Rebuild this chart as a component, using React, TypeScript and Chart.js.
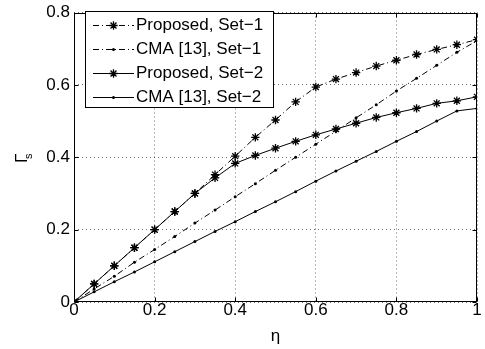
import { useEffect, useRef } from "react";
import { Chart, registerables } from "chart.js";

Chart.register(...registerables);

// ---- data ----
const eta = [0, 0.05, 0.1, 0.15, 0.2, 0.25, 0.3, 0.35, 0.4, 0.45, 0.5, 0.55, 0.6, 0.65, 0.7, 0.75, 0.8, 0.85, 0.9, 0.95, 1.0];
const proposedSet1 = [0, 0.05, 0.1, 0.15, 0.2, 0.25, 0.3, 0.352, 0.403, 0.455, 0.503, 0.553, 0.594, 0.616, 0.634, 0.652, 0.668, 0.684, 0.698, 0.711, 0.725];
const cmaSet1 = [0, 0.036, 0.071, 0.11, 0.145, 0.181, 0.218, 0.254, 0.291, 0.327, 0.364, 0.4, 0.436, 0.472, 0.509, 0.545, 0.583, 0.618, 0.654, 0.69, 0.722];
const proposedSet2 = [0, 0.05, 0.1, 0.15, 0.2, 0.25, 0.3, 0.343, 0.383, 0.405, 0.425, 0.444, 0.462, 0.478, 0.494, 0.51, 0.523, 0.535, 0.549, 0.556, 0.567];
const cmaSet2 = [0, 0.028, 0.056, 0.083, 0.111, 0.139, 0.167, 0.195, 0.222, 0.25, 0.277, 0.305, 0.334, 0.362, 0.389, 0.416, 0.444, 0.471, 0.5, 0.528, 0.535];

const seriesLabels = ["Proposed, Set\u22121", "CMA [13], Set\u22121", "Proposed, Set\u22122", "CMA [13], Set\u22122"];
const xTicks = [0, 0.2, 0.4, 0.6, 0.8, 1];
const yTicks = [0, 0.2, 0.4, 0.6, 0.8];
const xTitle = "\u03b7";
const yTitleMain = "\u0393";
const yTitleSub = "s";

const FONT = "'Liberation Sans', Arial, Helvetica, sans-serif";
const DASHDOT = [6, 3, 1, 3];

const overlayPlugin = {
  id: "matlabOverlay",
  afterDraw(chart: any) {
    const ctx = chart.ctx as CanvasRenderingContext2D;
    const { left, top, right, bottom } = chart.chartArea;
    const xs = chart.scales.x;
    const ys = chart.scales.y;
    ctx.save();
    ctx.strokeStyle = "#000";
    ctx.lineWidth = 1;
    ctx.setLineDash([]);
    const L = Math.round(left) + 0.5;
    const R = Math.round(right) - 0.5;
    const T = Math.round(top) + 0.5;
    const B = Math.round(bottom) - 0.5;
    ctx.strokeRect(L, T, R - L, B - T);
    const tl = 4;
    ctx.beginPath();
    xTicks.forEach((v) => {
      const px = Math.round(xs.getPixelForValue(v)) + 0.5;
      ctx.moveTo(px, B);
      ctx.lineTo(px, B - tl);
      ctx.moveTo(px, T);
      ctx.lineTo(px, T + tl);
    });
    yTicks.forEach((v) => {
      const py = Math.round(ys.getPixelForValue(v)) + 0.5;
      ctx.moveTo(L, py);
      ctx.lineTo(L + tl, py);
      ctx.moveTo(R, py);
      ctx.lineTo(R - tl, py);
    });
    ctx.stroke();

    // legend
    const bx0 = 85.5, by0 = 11.5, bx1 = 273.5, by1 = 107.5;
    ctx.fillStyle = "#fff";
    ctx.fillRect(bx0, by0, bx1 - bx0, by1 - by0);
    ctx.strokeRect(bx0, by0, bx1 - bx0, by1 - by0);
    chart.data.datasets.forEach((ds: any, i: number) => {
      const cy = 25.5 + i * 24;
      ctx.save();
      ctx.strokeStyle = "#000";
      ctx.lineWidth = 1;
      ctx.setLineDash(ds.borderDash || []);
      ctx.beginPath();
      ctx.moveTo(93, cy);
      ctx.lineTo(134, cy);
      ctx.stroke();
      ctx.setLineDash([]);
      const mx = 113.5;
      if (ds.pointStyle === "star") {
        const r = ds.pointRadius;
        const d = r * Math.SQRT1_2;
        ctx.lineWidth = ds.pointBorderWidth;
        ctx.beginPath();
        ctx.moveTo(mx - r, cy); ctx.lineTo(mx + r, cy);
        ctx.moveTo(mx, cy - r); ctx.lineTo(mx, cy + r);
        ctx.moveTo(mx - d, cy - d); ctx.lineTo(mx + d, cy + d);
        ctx.moveTo(mx - d, cy + d); ctx.lineTo(mx + d, cy - d);
        ctx.stroke();
      } else {
        ctx.fillStyle = "#000";
        ctx.beginPath();
        ctx.arc(mx, cy, ds.pointRadius, 0, Math.PI * 2);
        ctx.fill();
      }
      ctx.restore();
      ctx.fillStyle = "#000";
      ctx.font = `17px ${FONT}`;
      ctx.textAlign = "left";
      ctx.textBaseline = "middle";
      ctx.fillText(ds.label, 136, cy);
    });

    // x title
    ctx.fillStyle = "#000";
    ctx.font = `17px ${FONT}`;
    ctx.textAlign = "center";
    ctx.textBaseline = "alphabetic";
    ctx.fillText(xTitle, (left + right) / 2, 341);

    // y title (Gamma with subscript s), rotated
    ctx.save();
    ctx.translate(27, 163);
    ctx.rotate(-Math.PI / 2);
    ctx.textAlign = "left";
    ctx.textBaseline = "alphabetic";
    ctx.font = `17px ${FONT}`;
    ctx.fillText(yTitleMain, 0, 0);
    ctx.font = `11px ${FONT}`;
    ctx.fillText(yTitleSub, 4, 5);
    ctx.restore();

    ctx.restore();
  },
};

function makeDataset(label: string, values: number[], dashed: boolean, star: boolean) {
  return {
    label,
    data: eta.map((x, i) => ({ x, y: values[i] })),
    borderColor: "#000",
    backgroundColor: "#000",
    borderWidth: 1,
    borderDash: dashed ? DASHDOT : [],
    pointStyle: star ? "star" : "circle",
    pointRadius: star ? 4.2 : 1.5,
    pointBorderColor: "#000",
    pointBackgroundColor: "#000",
    pointBorderWidth: star ? 1.3 : 0,
    fill: false,
    tension: 0,
  };
}

export default function App() {
  const ref = useRef<HTMLCanvasElement | null>(null);
  useEffect(() => {
    if (!ref.current) return;
    const tickFont = { size: 17, family: FONT, lineHeight: 1 };
    const chart = new Chart(ref.current, {
      type: "line",
      data: {
        datasets: [
          makeDataset(seriesLabels[0], proposedSet1, true, true),
          makeDataset(seriesLabels[1], cmaSet1, true, false),
          makeDataset(seriesLabels[2], proposedSet2, false, true),
          makeDataset(seriesLabels[3], cmaSet2, false, false),
        ] as any,
      },
      options: {
        animation: false,
        responsive: false,
        devicePixelRatio: 1,
        layout: { padding: { left: 0, right: 8, top: 10, bottom: 0 } },
        plugins: { legend: { display: false }, tooltip: { enabled: false } },
        scales: {
          x: {
            type: "linear",
            min: 0,
            max: 1,
            afterBuildTicks: (s: any) => {
              s.ticks = xTicks.map((v) => ({ value: v }));
            },
            afterFit: (s: any) => {
              s.height = 47;
            },
            ticks: {
              color: "#000",
              font: tickFont,
              padding: 0,
              maxRotation: 0,
              callback: (v: any) => String(Number(Number(v).toFixed(1))),
            },
            grid: { color: "rgba(0,0,0,0.55)", drawTicks: false, lineWidth: 1 },
            border: { display: false, dash: [1, 3] },
          },
          y: {
            type: "linear",
            min: 0,
            max: 0.8,
            afterBuildTicks: (s: any) => {
              s.ticks = yTicks.map((v) => ({ value: v }));
            },
            afterFit: (s: any) => {
              s.width = 74;
            },
            ticks: {
              color: "#000",
              font: tickFont,
              padding: 4,
              callback: (v: any) => String(Number(Number(v).toFixed(1))),
            },
            grid: { color: "rgba(0,0,0,0.55)", drawTicks: false, lineWidth: 1 },
            border: { display: false, dash: [1, 3] },
          },
        },
      } as any,
      plugins: [overlayPlugin],
    });
    return () => chart.destroy();
  }, []);
  return (
    <div style={{ position: "absolute", left: 0, top: 0, width: 485, height: 349, background: "#fff" }}>
      <canvas ref={ref} width={485} height={349} style={{ display: "block", width: 485, height: 349 }} />
    </div>
  );
}
